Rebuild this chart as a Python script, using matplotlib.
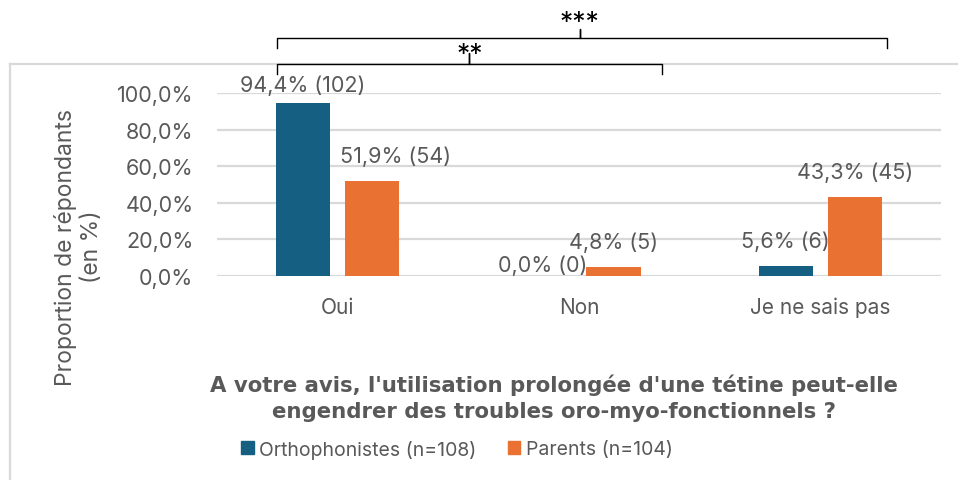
import matplotlib
matplotlib.use("Agg")
import matplotlib.pyplot as plt
from matplotlib.lines import Line2D
from matplotlib.patches import Patch
import numpy as np

plt.rcParams['font.family'] = ['Inter', 'DejaVu Sans']

# données
categories = ['Oui', 'Non', 'Je ne sais pas']
ortho_pct = [94.4, 0.0, 5.6]
ortho_n = [102, 0, 6]
parents_pct = [51.9, 4.8, 43.3]
parents_n = [54, 5, 45]
series_names = ['Orthophonistes (n=108)', 'Parents (n=104)']
yticks = [0, 20, 40, 60, 80, 100]

# style
blue = '#156082'
orange = '#E97132'
grey_txt = '#595959'
grid_c = '#d9d9d9'
fs = 15.5
bar_w = 0.224
off = 0.143
# décalage des étiquettes (points)
dx_ortho = [0, -1, 0]
dy_ortho = [13, 8, 18]
dx_par = [17, 0, 0]
dy_par = [18, 18, 18]

fig = plt.figure(figsize=(9.58, 4.81), dpi=100)
ax = fig.add_axes([217/958, 1-277/481, (941-217)/958, (277-94)/481])
ax.patch.set_visible(False)

x = np.arange(len(categories))
ax.bar(x - off, ortho_pct, bar_w, color=blue, zorder=3)
ax.bar(x + off, parents_pct, bar_w, color=orange, zorder=3)

def fmt(v):
    return ('%.1f' % v).replace('.', ',') + '%'

for i in range(len(categories)):
    ax.annotate(fmt(ortho_pct[i]) + ' (%d)' % ortho_n[i], (x[i] - off, ortho_pct[i]),
                xytext=(dx_ortho[i], dy_ortho[i]), textcoords='offset points', ha='center', va='center',
                fontsize=fs, color=grey_txt, annotation_clip=False, zorder=4)
    ax.annotate(fmt(parents_pct[i]) + ' (%d)' % parents_n[i], (x[i] + off, parents_pct[i]),
                xytext=(dx_par[i], dy_par[i]), textcoords='offset points', ha='center', va='center',
                fontsize=fs, color=grey_txt, annotation_clip=False, zorder=4)

ax.set_xlim(-0.5, 2.5)
ax.set_ylim(0, 100)
ax.set_yticks(yticks)
ax.set_yticklabels([fmt(v) for v in yticks])
ax.set_xticks(x)
ax.set_xticklabels(categories)
ax.tick_params(axis='y', length=0, pad=17, labelsize=fs, labelcolor=grey_txt)
ax.tick_params(axis='x', length=0, pad=15, labelsize=15, labelcolor=grey_txt)
ax.grid(axis='y', color=grid_c, lw=1.6, zorder=0)
for s in ax.spines.values():
    s.set_visible(False)

# accolades de significativité
def bracket(x0, x1, xm, y, h, bump, label, ylab):
    ax.plot([x0, x0, xm - 0.02, xm, xm, xm, xm + 0.02, x1, x1],
            [y - h, y, y, y, y + bump, y, y, y, y - h],
            color='black', lw=1.0, clip_on=False, zorder=5)
    ax.text(xm, ylab, label, ha='center', va='center', fontsize=19, clip_on=False)

bracket(-0.251, 2.277, 1.003, 130, 5.5, 5, '***', 138)
bracket(-0.251, 1.344, 0.546, 115.8, 5.5, 6, '**', 121)

# titre de l'axe x
fig.text(554/958, 1-398/481, "A votre avis, l'utilisation prolongée d'une tétine peut-elle\nengendrer des troubles oro-myo-fonctionnels ?",
         ha='center', va='center', fontsize=15.3, fontweight='bold', color=grey_txt, linespacing=1.38,
         family=['DejaVu Sans'])

fig.text(78.5/958, 1-247/481, 'Proportion de répondants\n(en %)', rotation=90, ha='center', va='center',
         multialignment='center', fontsize=16.5, color=grey_txt, linespacing=1.25)

handles = [Patch(color=blue), Patch(color=orange)]
fig.legend(handles, series_names, loc='center', bbox_to_anchor=(457/958, 1-450/481), ncol=2,
           frameon=False, fontsize=14, labelcolor=grey_txt, handlelength=0.62, handleheight=0.62,
           handletextpad=0.3, columnspacing=1.6)

# cadre du graphique
fig.add_artist(Line2D([10/958, 1], [1-65/481, 1-65/481], color=grid_c, lw=1.6, zorder=-1))
fig.add_artist(Line2D([10/958, 10/958], [0, 1-65/481], color=grid_c, lw=1.6, zorder=-1))

fig.savefig('out.png', dpi=100)
